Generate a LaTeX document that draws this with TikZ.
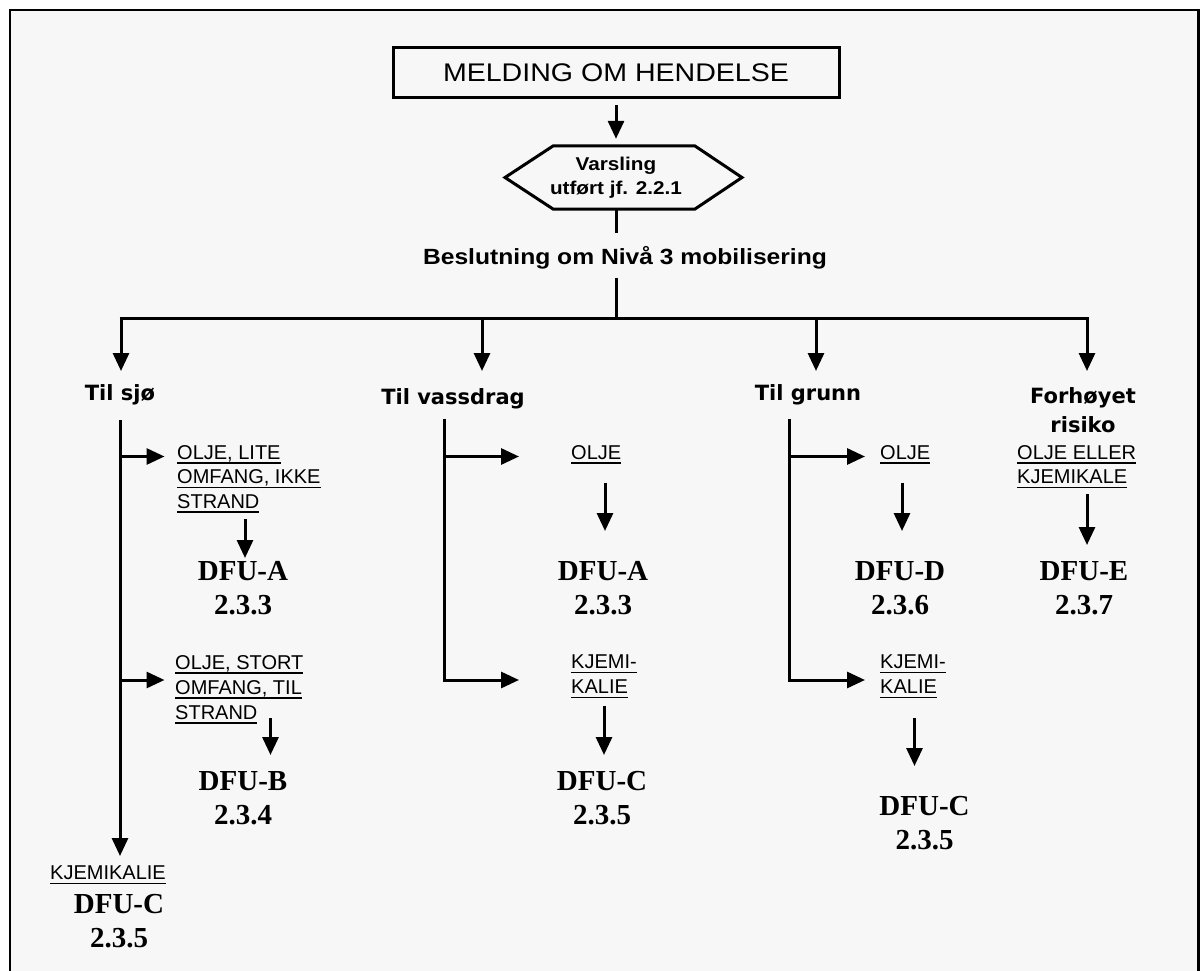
\documentclass[tikz,border=0pt]{standalone}
\usepackage{fontspec}
\setmainfont{Liberation Sans}
\newfontfamily\widesans[FakeStretch=1.12]{Liberation Sans}
\newfontfamily\headfont{DejaVu Sans}
\newfontfamily\dfufont{Liberation Serif}
\usetikzlibrary{arrows.meta,calc}
\newcommand{\uln}[1]{\setbox0\hbox{#1}\rlap{\vrule height -3pt depth 4.5pt width \wd0}\box0}
\definecolor{bgc}{HTML}{F7F7F7}
\begin{document}
\begin{tikzpicture}[x=1pt,y=-1pt,
  ln/.style={line width=3pt},
  arr/.style={line width=3pt,-{Triangle[length=18pt,width=16pt]}},
  head/.style={font=\headfont\bfseries\fontsize{21}{29}\selectfont,inner sep=0pt,align=center},
  lab/.style={font=\fontsize{20}{24.5}\selectfont,inner sep=0pt,align=left,anchor=north west},
  dfu/.style={font=\dfufont\bfseries\fontsize{29}{34}\selectfont,inner sep=0pt,align=center,anchor=north}]
\useasboundingbox (0,0) rectangle (1200,971);
\fill[white] (0,0) rectangle (1200,971);
\fill[bgc] (10,10) rectangle (1198.5,980);
\draw[line width=2.6pt] (10,985) -- (10,10) -- (1198.5,10) -- (1198.5,985);

% top
\node[draw,line width=3pt,minimum width=446pt,minimum height=50pt,inner sep=0pt,
  font=\widesans\fontsize{25.5}{30}\selectfont] (meld) at (616,73) {MELDING OM HENDELSE};
\node[minimum width=237pt,minimum height=63pt,inner sep=0pt,align=center,
  font=\widesans\bfseries\fontsize{18.5}{24}\selectfont] (hex) at (616,177.5) {Varsling\\utført jf. 2.2.1};
\draw[ln] ($(hex.center)+(-111,0)$) -- ($(hex.center)+(-63,-31.5)$) -- ($(hex.center)+(79,-31.5)$)
  -- ($(hex.center)+(126,0)$) -- ($(hex.center)+(79,31.5)$) -- ($(hex.center)+(-63,31.5)$) -- cycle;
\node[inner sep=0pt,text height=15pt,text depth=4pt,
  font=\widesans\bfseries\fontsize{22}{26}\selectfont] (besl) at (625,259) {Beslutning om Nivå 3 mobilisering};

\draw[arr,shorten <=6pt,shorten >=7pt] (meld.south) -- (hex.north);
\draw[ln] (hex.south) -- ($(hex.south |- besl.north)+(0,-16)$);

\coordinate (hub) at (616,318);
\coordinate (b1) at (121,318);
\coordinate (b2) at (482,318);
\coordinate (b3) at (816,318);
\coordinate (b4) at (1087,318);
\coordinate (t1) at (121,371);
\coordinate (t2) at (482,371);
\coordinate (t3) at (816,371);
\coordinate (t4) at (1087,371);
\draw[ln] ($(hub |- besl.south)+(0,9)$) -- (hub);
\draw[ln] ([xshift=-1.5pt]b1) -- ([xshift=1.5pt]b4);
\draw[arr] (b1) -- (t1);
\draw[arr] (b2) -- (t2);
\draw[arr] (b3) -- (t3);
\draw[arr] (b4) -- (t4);

% headings
\node[head] (sjo) at (120,395) {Til sjø};
\node[head] (vass) at (453,399) {Til vassdrag};
\node[head] (grunn) at (808,395) {Til grunn};
\node[head,font=\headfont\bfseries\fontsize{21}{29.5}\selectfont] (forh) at (1083,410) {Forhøyet\\risiko};

% labels
\node[lab] (L1) at (177,445) {\uln{OLJE, LITE}\\\uln{OMFANG, IKKE}\\\uln{STRAND}};
\node[lab,font=\fontsize{20}{25}\selectfont] (L2) at (175,655) {\uln{OLJE, STORT}\\\uln{OMFANG, TIL}\\\uln{STRAND}};
\node[lab,anchor=north] (L3) at (108,866) {\uln{KJEMIKALIE}};
\node[lab] (V1) at (571,445) {\uln{OLJE}};
\node[lab,font=\fontsize{20}{25}\selectfont] (V2) at (571,655) {\uln{KJEMI-}\\\uln{KALIE}};
\node[lab] (G1) at (880,445) {\uln{OLJE}};
\node[lab,font=\fontsize{20}{25}\selectfont] (G2) at (880,655) {\uln{KJEMI-}\\\uln{KALIE}};
\node[lab] (F1) at (1017,445) {\uln{OLJE ELLER}\\\uln{KJEMIKALE}};

% DFU
\node[dfu] (dA1) at (243,561) {DFU-A\\2.3.3};
\node[dfu] (dB) at (243,771.5) {DFU-B\\2.3.4};
\node[dfu] (dC1) at (119,894.5) {DFU-C\\2.3.5};
\node[dfu] (dA2) at (603,561) {DFU-A\\2.3.3};
\node[dfu] (dC2) at (602,771.5) {DFU-C\\2.3.5};
\node[dfu] (dD) at (900,561) {DFU-D\\2.3.6};
\node[dfu] (dC3) at (924.5,796.5) {DFU-C\\2.3.5};
\node[dfu] (dE) at (1084,561) {DFU-E\\2.3.7};

% Til sjø trunk and branches
\draw[arr,shorten <=25pt,shorten >=10pt] (sjo.center) -- (sjo.center |- L3.north);
\draw[arr,shorten >=12.5pt] ($(sjo.center |- L1.north)+(0,11.5)$) -- ($(L1.north west)+(0,11.5)$);
\draw[arr,shorten >=10.5pt] ($(sjo.center |- L2.north)+(0,25)$) -- ($(L2.north west)+(0,25)$);

% Til vassdrag trunk and branches
\coordinate (vt) at (444,420);
\draw[ln] (vt) -- ($(vt |- L1.north)+(0,11.5)$);
\draw[arr,shorten >=52pt] ($(vt |- V1.north)+(0,11.5)$) -- ($(V1.north west)+(0,11.5)$);
\draw[arr,shorten >=52pt] ([yshift=1.5pt]vt) |- ($(V2.north west)+(0,25)$);

% Til grunn trunk and branches
\coordinate (gt) at (789.5,420);
\draw[arr,shorten >=15pt] ($(gt |- G1.north)+(0,11.5)$) -- ($(G1.north west)+(0,11.5)$);
\draw[arr,shorten >=15pt] ([yshift=1.5pt]gt) |- ($(G2.north west)+(0,25)$);

% small arrows to DFU
\draw[arr] ([shift={(2,-42)}]dA1.north) -- ([shift={(2,-3)}]dA1.north);
\draw[arr] ([shift={(27.5,-53.5)}]dB.north) -- ([shift={(27.5,-16.5)}]dB.north);
\draw[arr] ([shift={(2,-78.5)}]dA2.north) -- ([shift={(2,-30)}]dA2.north);
\draw[arr] ([shift={(2,-65.5)}]dC2.north) -- ([shift={(2,-16.5)}]dC2.north);
\draw[arr] ([shift={(2,-78.5)}]dD.north) -- ([shift={(2,-30)}]dD.north);
\draw[arr] ([shift={(-10,-78.5)}]dC3.north) -- ([shift={(-10,-30.5)}]dC3.north);
\draw[arr] ([shift={(3,-67)}]dE.north) -- ([shift={(3,-16)}]dE.north);
\end{tikzpicture}
\end{document}
